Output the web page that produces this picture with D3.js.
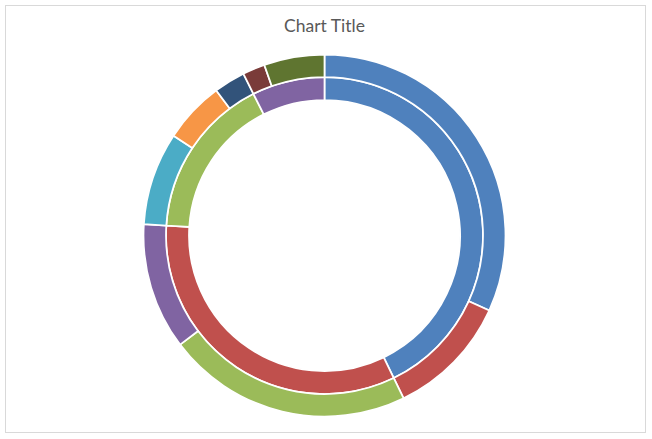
<!DOCTYPE html>
<html>
<head>
<meta charset="utf-8">
<script src="https://cdn.jsdelivr.net/npm/d3@7"></script>
<style>
  body { margin: 0; background: #fff; }
  svg { display: block; }
  .chart-title { font-family: Lato, "Open Sans", sans-serif; font-size: 17.5px; fill: #595959; }
</style>
</head>
<body>
<svg id="chart" width="652" height="439"></svg>
<script>
// Inner ring points (series 1)
const innerValues = [42.8, 33.2, 16.6, 7.4];
const innerColors = ['#4f81bd', '#c0504d', '#9bbb59', '#8064a2'];

// Outer ring points (series 2)
const outerValues = [31.8, 11.0, 21.9, 11.3, 8.3, 5.5, 2.8, 2.0, 5.4];
const outerColors = ['#4f81bd', '#c0504d', '#9bbb59', '#8064a2', '#4bacc6',
  '#f79646', '#32537a', '#7a3b39', '#5f7530'];

const titleText = 'Chart Title';

const svg = d3.select('#chart');

// Chart area border
svg.append('rect')
  .attr('x', 5.5)
  .attr('y', 5.5)
  .attr('width', 640)
  .attr('height', 427)
  .attr('fill', '#fff')
  .attr('stroke', '#d9d9d9')
  .attr('stroke-width', 1);

// Title
svg.append('text')
  .attr('class', 'chart-title')
  .attr('x', 324.5)
  .attr('y', 32)
  .attr('text-anchor', 'middle')
  .text(titleText);

const center = { x: 324.5, y: 235.5 };
const g = svg.append('g')
  .attr('transform', `translate(${center.x},${center.y})`);

const pie = d3.pie()
  .sort(null)
  .value(d => d)
  .startAngle(0)
  .endAngle(2 * Math.PI);

const rings = [
  { values: innerValues, colors: innerColors, r0: 135.5, r1: 158.5 },
  { values: outerValues, colors: outerColors, r0: 158.5, r1: 181 },
];

// Draw each ring as its own pie, slices outlined in white
rings.forEach(ring => {
  const arc = d3.arc().innerRadius(ring.r0).outerRadius(ring.r1);
  g.append('g')
    .selectAll('path')
    .data(pie(ring.values))
    .enter()
    .append('path')
    .attr('d', arc)
    .attr('fill', (d, i) => ring.colors[i])
    .attr('stroke', '#fff')
    .attr('stroke-width', 1.75);
});
</script>
</body>
</html>
